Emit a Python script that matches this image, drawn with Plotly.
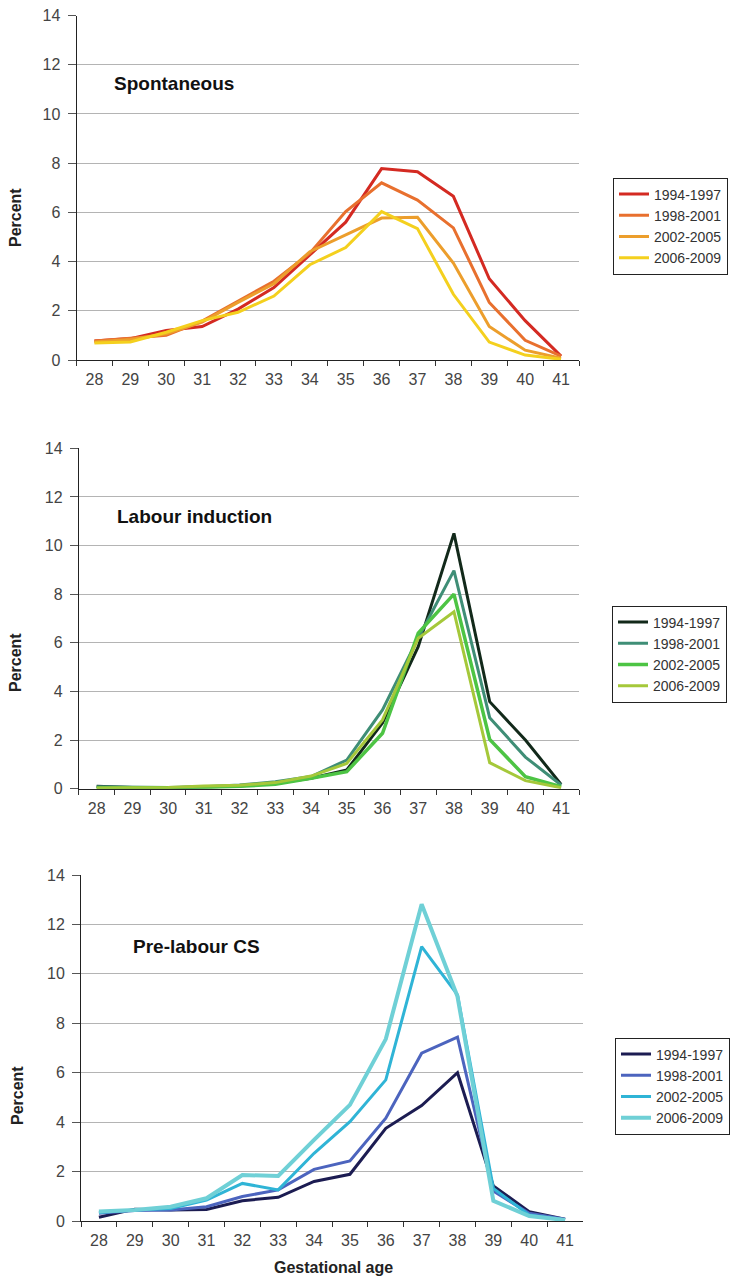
import plotly.graph_objects as go

weeks = ["28", "29", "30", "31", "32", "33", "34", "35", "36", "37", "38", "39", "40", "41"]
periods = ["1994-1997", "1998-2001", "2002-2005", "2006-2009"]

# Spontaneous
spont_1994 = [0.77, 0.87, 1.20, 1.36, 2.07, 2.94, 4.27, 5.60, 7.78, 7.65, 6.65, 3.30, 1.60, 0.16]
spont_1998 = [0.77, 0.87, 1.00, 1.58, 2.40, 3.20, 4.34, 6.03, 7.20, 6.50, 5.37, 2.34, 0.80, 0.16]
spont_2002 = [0.73, 0.83, 1.07, 1.54, 2.34, 3.10, 4.40, 5.07, 5.77, 5.80, 3.94, 1.36, 0.40, 0.07]
spont_2006 = [0.69, 0.73, 1.13, 1.60, 1.94, 2.60, 3.87, 4.57, 6.03, 5.34, 2.67, 0.73, 0.20, 0.03]

# Labour induction
induc_1994 = [0.10, 0.05, 0.04, 0.08, 0.11, 0.22, 0.43, 0.77, 2.70, 5.84, 10.50, 3.58, 2.00, 0.18]
induc_1998 = [0.08, 0.05, 0.05, 0.08, 0.15, 0.29, 0.50, 1.18, 3.24, 6.20, 8.97, 2.92, 1.30, 0.15]
induc_2002 = [0.03, 0.03, 0.03, 0.05, 0.10, 0.18, 0.43, 0.70, 2.28, 6.40, 8.00, 2.03, 0.49, 0.08]
induc_2006 = [0.03, 0.03, 0.05, 0.11, 0.14, 0.25, 0.52, 1.04, 2.83, 6.19, 7.28, 1.07, 0.33, 0.04]

# Pre-labour CS
cs_1994 = [0.15, 0.48, 0.45, 0.47, 0.82, 0.96, 1.60, 1.89, 3.75, 4.67, 6.00, 1.42, 0.38, 0.07]
cs_1998 = [0.31, 0.42, 0.45, 0.58, 0.99, 1.26, 2.09, 2.43, 4.16, 6.79, 7.44, 1.21, 0.31, 0.07]
cs_2002 = [0.34, 0.45, 0.51, 0.85, 1.52, 1.26, 2.74, 4.02, 5.71, 11.10, 9.15, 1.32, 0.24, 0.04]
cs_2006 = [0.38, 0.45, 0.58, 0.92, 1.86, 1.82, 3.28, 4.70, 7.36, 12.82, 9.08, 0.82, 0.20, 0.04]

panel_titles = ["Spontaneous", "Labour induction", "Pre-labour CS"]
y_ticks = [0, 2, 4, 6, 8, 10, 12, 14]

W, H = 741, 1287
OFF = 8  # the page body adds an 8px margin around the figure

panels = [
    dict(series=[spont_1994, spont_1998, spont_2002, spont_2006],
         colors=["#D42A22", "#E8702E", "#EC9E2C", "#F4D01E"],
         widths=[3, 3, 3, 3],
         xdom=(76.5, 579), ydom=(15.5, 360),
         legend=(613, 177.5), title_xy=(112, 84), pct_xy=(15, 218)),
    dict(series=[induc_1994, induc_1998, induc_2002, induc_2006],
         colors=["#12291A", "#3F8E76", "#4DC444", "#A5C83A"],
         widths=[3, 3, 3.5, 3],
         xdom=(78.8, 579), ydom=(448.3, 788.7),
         legend=(612, 605.5), title_xy=(115, 517), pct_xy=(15, 663)),
    dict(series=[cs_1994, cs_1998, cs_2002, cs_2006],
         colors=["#1C1C52", "#4C64BE", "#2FB4D6", "#6FD0D6"],
         widths=[3, 3, 3, 4],
         xdom=(81, 583), ydom=(875, 1221),
         legend=(615, 1037.5), title_xy=(131, 946), pct_xy=(17, 1096)),
]


def px_x(v):
    return (v - OFF) / W


def px_y(v):
    return 1 - (v - OFF) / H


fig = go.Figure()
annotations = []
layout = {}
for i, p in enumerate(panels):
    n = "" if i == 0 else str(i + 1)
    xa, ya = "x" + n, "y" + n
    lg = "legend" + n
    for s, c, w, name in zip(p["series"], p["colors"], p["widths"], periods):
        fig.add_trace(go.Scatter(x=weeks, y=s, mode="lines", name=name,
                                 line=dict(color=c, width=w),
                                 xaxis=xa, yaxis=ya, legend=lg))
    x0, x1 = p["xdom"]
    yt, yb = p["ydom"]
    layout["xaxis" + n] = dict(
        domain=[px_x(x0), px_x(x1)], anchor=ya, type="category", automargin=False,
        tickson="boundaries", ticks="outside", ticklen=5, tickcolor="#333",
        ticklabelstandoff=5,
        showline=True, linecolor="#222", linewidth=1, showgrid=False,
        tickfont=dict(family="Liberation Sans, Arial", size=16, color="#444"),
        range=[-0.5, 13.5], fixedrange=True)
    layout["yaxis" + n] = dict(
        domain=[px_y(yb), px_y(yt)], anchor=xa, range=[0, 14], automargin=False,
        tickvals=y_ticks, ticks="outside", ticklen=8, tickcolor="#555",
        ticklabelstandoff=4, ticklabeloverflow="allow",
        showline=True, linecolor="#222", linewidth=1,
        showgrid=True, gridcolor="#B4B4B4", gridwidth=1, zeroline=False,
        tickfont=dict(family="Liberation Sans, Arial", size=16, color="#444"),
        fixedrange=True)
    lx, ly = p["legend"]
    layout[lg] = dict(x=px_x(lx), y=px_y(ly), xanchor="left", yanchor="top",
                      bordercolor="#222", borderwidth=1, bgcolor="white",
                      font=dict(family="Liberation Sans, Arial", size=14, color="#333"),
                      tracegroupgap=0, itemwidth=30)
    tx, ty = p["title_xy"]
    annotations.append(dict(text="<b>" + panel_titles[i] + "</b>", x=px_x(tx), y=px_y(ty),
                            xref="paper", yref="paper", xanchor="left", yanchor="middle",
                            showarrow=False,
                            font=dict(family="Liberation Sans, Arial", size=19, color="#111")))
    pxx, pyy = p["pct_xy"]
    annotations.append(dict(text="<b>Percent</b>", x=px_x(pxx), y=px_y(pyy),
                            xref="paper", yref="paper", xanchor="center", yanchor="middle",
                            textangle=-90, showarrow=False,
                            font=dict(family="Liberation Sans, Arial", size=16, color="#222")))

annotations.append(dict(text="<b>Gestational age</b>", x=px_x(333), y=px_y(1267),
                        xref="paper", yref="paper", xanchor="center", yanchor="middle",
                        showarrow=False,
                        font=dict(family="Liberation Sans, Arial", size=16, color="#222")))

fig.update_layout(width=W, height=H, margin=dict(l=0, r=0, t=0, b=0, autoexpand=False),
                  paper_bgcolor="white", plot_bgcolor="white",
                  showlegend=True, annotations=annotations, **layout)

fig.write_html("out.html")
